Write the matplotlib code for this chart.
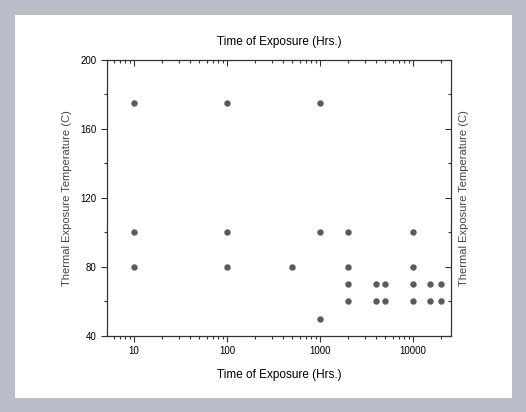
import matplotlib.pyplot as plt
from matplotlib.patches import Rectangle
from matplotlib.ticker import LogLocator, NullFormatter, FixedLocator

# exposure points (hours, deg C)
hours = [10, 10, 10, 100, 100, 100, 500, 1000, 1000, 1000,
         2000, 2000, 2000, 2000, 4000, 4000, 5000, 5000,
         10000, 10000, 10000, 10000, 15000, 15000, 20000, 20000]
temps = [175, 100, 80, 175, 100, 80, 80, 175, 100, 50,
         100, 80, 70, 60, 70, 60, 70, 60,
         100, 80, 70, 60, 70, 60, 70, 60]

x_ticks = [10, 100, 1000, 10000]
x_labels = ["10", "100", "1000", "10000"]
y_ticks = [40, 80, 120, 160, 200]
y_minor = [60, 100, 140, 180]

plt.rcParams['font.family'] = ['Liberation Sans', 'DejaVu Sans']

fig = plt.figure(figsize=(5.26, 4.12), dpi=100)
fig.patch.set_facecolor('#b9bdc9')
# white card behind the plot
card = Rectangle((15/526, 1-398/412), 497/526, 383/412,
                 transform=fig.transFigure, facecolor='white',
                 edgecolor='none', zorder=0)
fig.add_artist(card)

ax = fig.add_axes([0.2034, 0.1845, 0.654, 0.670])
ax.set_zorder(2)
ax.set_facecolor('white')
ax.scatter(hours, temps, s=13, color='#5a5a5a', zorder=3)

ax.set_xscale('log')
ax.set_xlim(5.1, 25500)
ax.set_ylim(40, 200)
ax.set_xticks(x_ticks)
ax.set_xticklabels(x_labels)
ax.xaxis.set_minor_locator(LogLocator(base=10, subs=range(2, 10)))
ax.xaxis.set_minor_formatter(NullFormatter())
ax.set_yticks(y_ticks)
ax.yaxis.set_minor_locator(FixedLocator(y_minor))

ax.tick_params(which='both', labelsize=7, color='#333333', width=0.8, direction='out')
ax.tick_params(which='major', length=4)
ax.tick_params(which='minor', length=2.5)
for spine in ax.spines.values():
    spine.set_color('#333333')
    spine.set_linewidth(0.9)

ax.set_xlabel("Time of Exposure (Hrs.)", fontsize=8.5, labelpad=9)
ax.set_ylabel("Thermal Exposure Temperature (C)", fontsize=8, color='#444444', labelpad=6)

# top and right axes: inward ticks, no numbers
sec_x = ax.secondary_xaxis('top')
sec_x.set_xticks(x_ticks)
sec_x.xaxis.set_minor_locator(LogLocator(base=10, subs=range(2, 10)))
sec_x.xaxis.set_minor_formatter(NullFormatter())
sec_x.tick_params(which='both', direction='in', labeltop=False, color='#333333', width=0.8)
sec_x.tick_params(which='major', length=4)
sec_x.tick_params(which='minor', length=2.5)
sec_x.set_xlabel("Time of Exposure (Hrs.)", fontsize=8.5, labelpad=11)
sec_x.spines['top'].set_visible(False)

sec_y = ax.secondary_yaxis('right')
sec_y.set_yticks(y_ticks)
sec_y.yaxis.set_minor_locator(FixedLocator(y_minor))
sec_y.tick_params(which='both', direction='in', labelright=False, color='#333333', width=0.8)
sec_y.tick_params(which='major', length=4)
sec_y.tick_params(which='minor', length=2.5)
sec_y.set_ylabel("Thermal Exposure Temperature (C)", fontsize=8, color='#444444', labelpad=6)
sec_y.spines['right'].set_visible(False)

fig.savefig("out.png", dpi=100, facecolor=fig.get_facecolor())
